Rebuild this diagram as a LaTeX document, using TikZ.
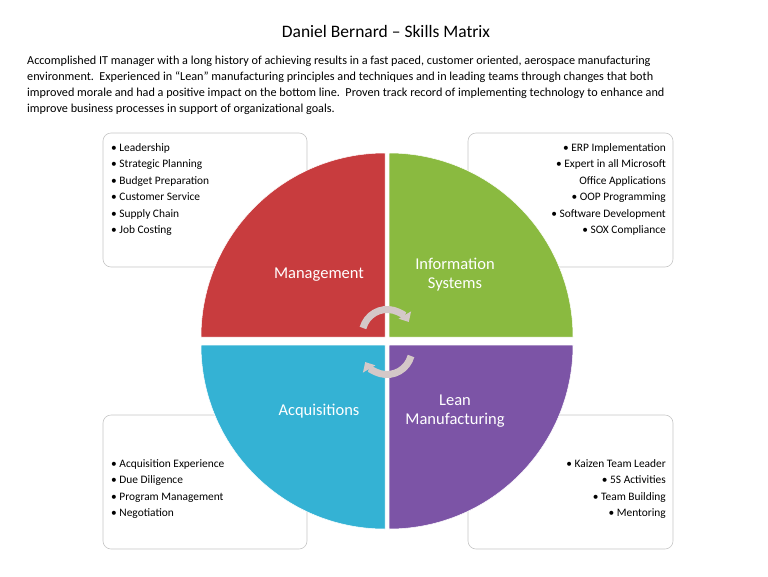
\documentclass[tikz,border=0pt]{standalone}
\usepackage{fontspec}
\setmainfont{Carlito}
\usetikzlibrary{arrows.meta}
\definecolor{mgmt}{RGB}{200,60,62}
\definecolor{infosys}{RGB}{138,186,64}
\definecolor{acq}{RGB}{52,178,212}
\definecolor{lean}{RGB}{124,84,166}
\definecolor{arr}{RGB}{212,200,200}
\tikzset{
  skillbox/.style={draw=gray!45, rounded corners=8pt, fill=white, line width=0.6pt},
  sector/.style={draw=white, line width=0.5pt},
  sectorlabel/.style={text=white, font=\fontsize{16.5}{19}\selectfont, align=center},
  bullets/.style={font=\fontsize{11.4}{16.5}\selectfont, inner sep=0pt},
  cycarrow/.style={draw=arr, line width=7pt, -{Triangle[length=8pt,width=14pt]}}
}
\begin{document}
\begin{tikzpicture}[x=1pt,y=-1pt]
\useasboundingbox (0,0) rectangle (768,576);
\node (title) at (386,31) {\fontsize{17.5}{20}\selectfont Daniel Bernard -- Skills Matrix};
\node[anchor=north west, inner sep=0pt, align=left, font=\fontsize{12.2}{16}\selectfont] (summary) at (27,56)
 {Accomplished IT manager with a long history of achieving results in a fast paced, customer oriented, aerospace manufacturing\\
 environment.\ \ Experienced in ``Lean'' manufacturing principles and techniques and in leading teams through changes that both\\
 improved morale and had a positive impact on the bottom line.\ \ Proven track record of implementing technology to enhance and\\
 improve business processes in support of organizational goals.};
% boxes
\draw[skillbox] (103,133) rectangle (307,267);
\draw[skillbox] (468,133) rectangle (673,267);
\draw[skillbox] (103,415) rectangle (307,549);
\draw[skillbox] (468,415) rectangle (673,549);
% quarter sectors
\filldraw[sector, fill=mgmt] (385,337) -- (201,337) arc[start angle=180, end angle=270, radius=184] -- cycle;
\filldraw[sector, fill=infosys] (389,337) -- (389,153) arc[start angle=270, end angle=360, radius=184] -- cycle;
\filldraw[sector, fill=acq] (385,345) -- (385,529) arc[start angle=90, end angle=180, radius=184] -- cycle;
\filldraw[sector, fill=lean] (389,345) -- (573,345) arc[start angle=0, end angle=90, radius=184] -- cycle;
\node[sectorlabel] (mgmtlabel) at (319,275) {Management};
\node[sectorlabel] (infolabel) at (455,275) {Information\\Systems};
\node[sectorlabel] (acqlabel) at (319,411) {Acquisitions};
\node[sectorlabel] (leanlabel) at (455,411) {Lean\\Manufacturing};
% cycle arrows
\draw[cycarrow] (363,328) arc[start angle=195, end angle=330, radius=25];
\draw[cycarrow] (411,356) arc[start angle=15, end angle=150, radius=25];
% bullet lists
\node[bullets, anchor=north west, align=left] (mgmtlist) at (111,143)
 {• Leadership\\• Strategic Planning\\• Budget Preparation\\• Customer Service\\• Supply Chain\\• Job Costing};
\node[bullets, anchor=north east, align=right] (infolist) at (666,143)
 {• ERP Implementation\\• Expert in all Microsoft\\Office Applications\\• OOP Programming\\• Software Development\\• SOX Compliance};
\node[bullets, anchor=north west, align=left] (acqlist) at (111,459)
 {• Acquisition Experience\\• Due Diligence\\• Program Management\\• Negotiation};
\node[bullets, anchor=north east, align=right] (leanlist) at (666,459)
 {• Kaizen Team Leader\\• 5S Activities\\• Team Building\\• Mentoring};
\end{tikzpicture}
\end{document}
